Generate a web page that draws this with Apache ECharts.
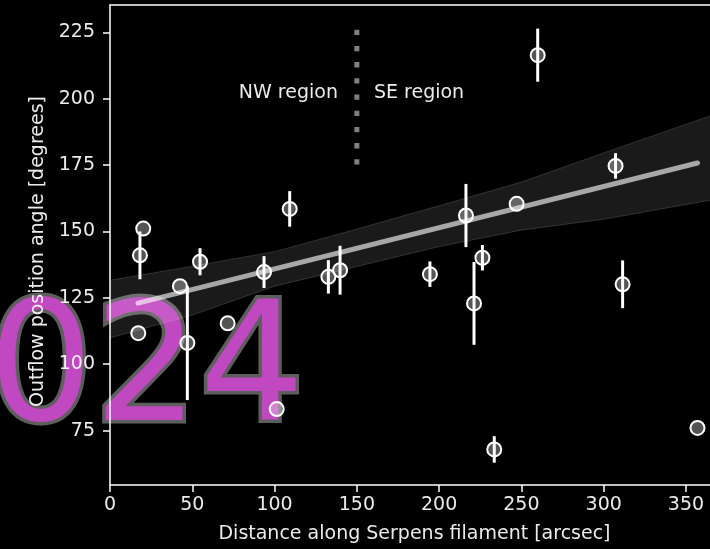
<!DOCTYPE html>
<html>
<head>
<meta charset="utf-8">
<script src="https://cdn.jsdelivr.net/npm/echarts@6/dist/echarts.min.js"></script>
<style>
html,body{margin:0;padding:0;background:#000;}
#chart{width:710px;height:549px;}
</style>
</head>
<body>
<div id="chart"></div>
<script>
// ---- data ----
const xs   = [17.2, 18.2, 20.2, 42.5, 47.0, 54.7, 71.5, 93.6, 101.3, 109.2, 132.7, 139.8, 194.4, 216.3, 221.2, 226.3, 233.5, 247.1, 259.9, 307.2, 311.5, 357.0];
const ys   = [111.7, 141.0, 151.1, 129.4, 108.0, 138.6, 115.4, 134.7, 83.1, 158.5, 132.9, 135.4, 133.9, 156.0, 122.9, 140.1, 67.9, 160.4, 216.4, 174.7, 130.1, 76.0];
const yErr = [0, 9.0, 0, 0, 21.5, 5.1, 0, 6.0, 0, 6.7, 6.3, 9.2, 4.8, 11.9, 15.6, 4.8, 5.0, 0, 10.0, 4.8, 9.0, 0];

const fitX = [17, 357];
const fitY = [123.0, 175.8];

const bandX     = [0, 50, 100, 150, 200, 250, 300, 365];
const bandUpper = [131.6, 136.9, 142.4, 150.9, 159.7, 168.6, 179.6, 193.6];
const bandLower = [109.9, 118.5, 129.4, 136.8, 144.3, 150.5, 154.6, 161.8];

const dividerX = 150;
const dividerY = [226, 174.5];

const regionLabels = ['NW region', 'SE region'];
const regionX = [138.5, 160.4];
const regionY = 202;

const xTicks = [0, 50, 100, 150, 200, 250, 300, 350];
const yTicks = [75, 100, 125, 150, 175, 200, 225];

const xTitle = 'Distance along Serpens filament [arcsec]';
const yTitle = 'Outflow position angle [degrees]';
const watermark = '024';

// ---- chart ----
const FONT = 'DejaVu Sans';
const TXT = 'rgba(255,255,255,0.92)';
const chart = echarts.init(document.getElementById('chart'), null, {renderer: 'canvas'});

const points = xs.map((x, i) => [x, ys[i], yErr[i]]);

const WM_X = -12, WM_Y = 294;
const option = {
  backgroundColor: '#000',
  animation: false,
  graphic: [{
    type: 'text', z: -11, x: WM_X, y: WM_Y, silent: true,
    style: {
      text: watermark, font: '166px "DejaVu Sans"', align: 'left', verticalAlign: 'top',
      fill: 'rgba(0,0,0,0)', stroke: 'rgba(125,125,125,0.75)', lineWidth: 7,
      shadowBlur: 7, shadowColor: 'rgba(120,120,120,0.9)'
    }
  }, {
    type: 'text', z: -10, x: WM_X, y: WM_Y, silent: true,
    style: {
      text: watermark, font: '166px "DejaVu Sans"', align: 'left', verticalAlign: 'top',
      fill: '#c048c0'
    }
  }],
  grid: {left: 110, right: 0, top: 5, bottom: 63.5, containLabel: false},
  xAxis: [{
    type: 'value', min: 0, max: 364.6,
    name: xTitle, nameLocation: 'middle', nameGap: 40,
    nameTextStyle: {color: TXT, fontSize: 19, fontFamily: FONT, padding: [0, 0, 0, 9]},
    axisLine: {show: true, onZero: false, lineStyle: {color: '#fff', width: 1.5}},
    axisTick: {show: true, length: 7, lineStyle: {color: '#fff', width: 1.5}, customValues: xTicks},
    axisLabel: {color: TXT, fontSize: 19, fontFamily: FONT, margin: 11, customValues: xTicks},
    splitLine: {show: false}
  }, {
    type: 'value', min: 0, max: 364.6, position: 'top',
    axisLine: {show: true, onZero: false, lineStyle: {color: '#fff', width: 1.5}},
    axisTick: {show: false}, axisLabel: {show: false}, splitLine: {show: false}
  }],
  yAxis: {
    type: 'value', min: 54.5, max: 235.3,
    name: yTitle, nameLocation: 'middle', nameGap: 61, nameRotate: 90,
    nameTextStyle: {color: TXT, fontSize: 19, fontFamily: FONT, padding: [0, 13, 0, 0]},
    axisLine: {show: true, onZero: false, lineStyle: {color: '#fff', width: 1.5}},
    axisTick: {show: true, length: 7, lineStyle: {color: '#fff', width: 1.5}, customValues: yTicks},
    axisLabel: {color: TXT, fontSize: 19, fontFamily: FONT, margin: 15, customValues: yTicks},
    splitLine: {show: false}
  },
  series: [
    {
      type: 'custom', z: 1, clip: true, silent: true,
      data: [[0, 0]],
      renderItem: function (params, api) {
        const up = bandX.map((x, i) => api.coord([x, bandUpper[i]]));
        const lo = bandX.map((x, i) => api.coord([x, bandLower[i]])).reverse();
        return {
          type: 'polygon',
          shape: {points: up.concat(lo), smooth: 0},
          style: {fill: 'rgba(255,255,255,0.1)', stroke: 'rgba(255,255,255,0.15)', lineWidth: 1}
        };
      }
    },
    {
      type: 'line', z: 2, symbol: 'none', silent: true,
      data: fitX.map((x, i) => [x, fitY[i]]),
      lineStyle: {color: 'rgba(255,255,255,0.62)', width: 5, cap: 'round'}
    },
    {
      type: 'line', z: 2, symbol: 'none', silent: true,
      data: dividerY.map(y => [dividerX, y]),
      lineStyle: {color: '#808080', width: 5, type: [5.3, 10.9], cap: 'butt'}
    },
    {
      type: 'custom', z: 3, silent: true,
      data: points,
      renderItem: function (params, api) {
        const x = api.value(0), y = api.value(1), e = api.value(2);
        if (!e) return null;
        const p1 = api.coord([x, y - e]);
        const p2 = api.coord([x, y + e]);
        return {
          type: 'line',
          shape: {x1: p1[0], y1: p1[1], x2: p2[0], y2: p2[1]},
          style: {stroke: '#fff', lineWidth: 3}
        };
      }
    },
    {
      type: 'scatter', z: 4, silent: true,
      data: points,
      symbol: 'circle', symbolSize: 14,
      itemStyle: {color: 'rgba(255,255,255,0.33)', borderColor: '#fff', borderWidth: 2, opacity: 1}
    },
    {
      type: 'scatter', z: 5, silent: true,
      symbolSize: 0,
      itemStyle: {opacity: 1},
      data: regionLabels.map((t, i) => ({
        name: t, value: [regionX[i], regionY],
        label: {show: true, formatter: t, position: i === 0 ? 'left' : 'right', distance: 0,
                color: '#fff', opacity: 0.92, fontSize: 19, fontFamily: FONT}
      }))
    }
  ]
};
chart.setOption(option);
</script>
</body>
</html>
